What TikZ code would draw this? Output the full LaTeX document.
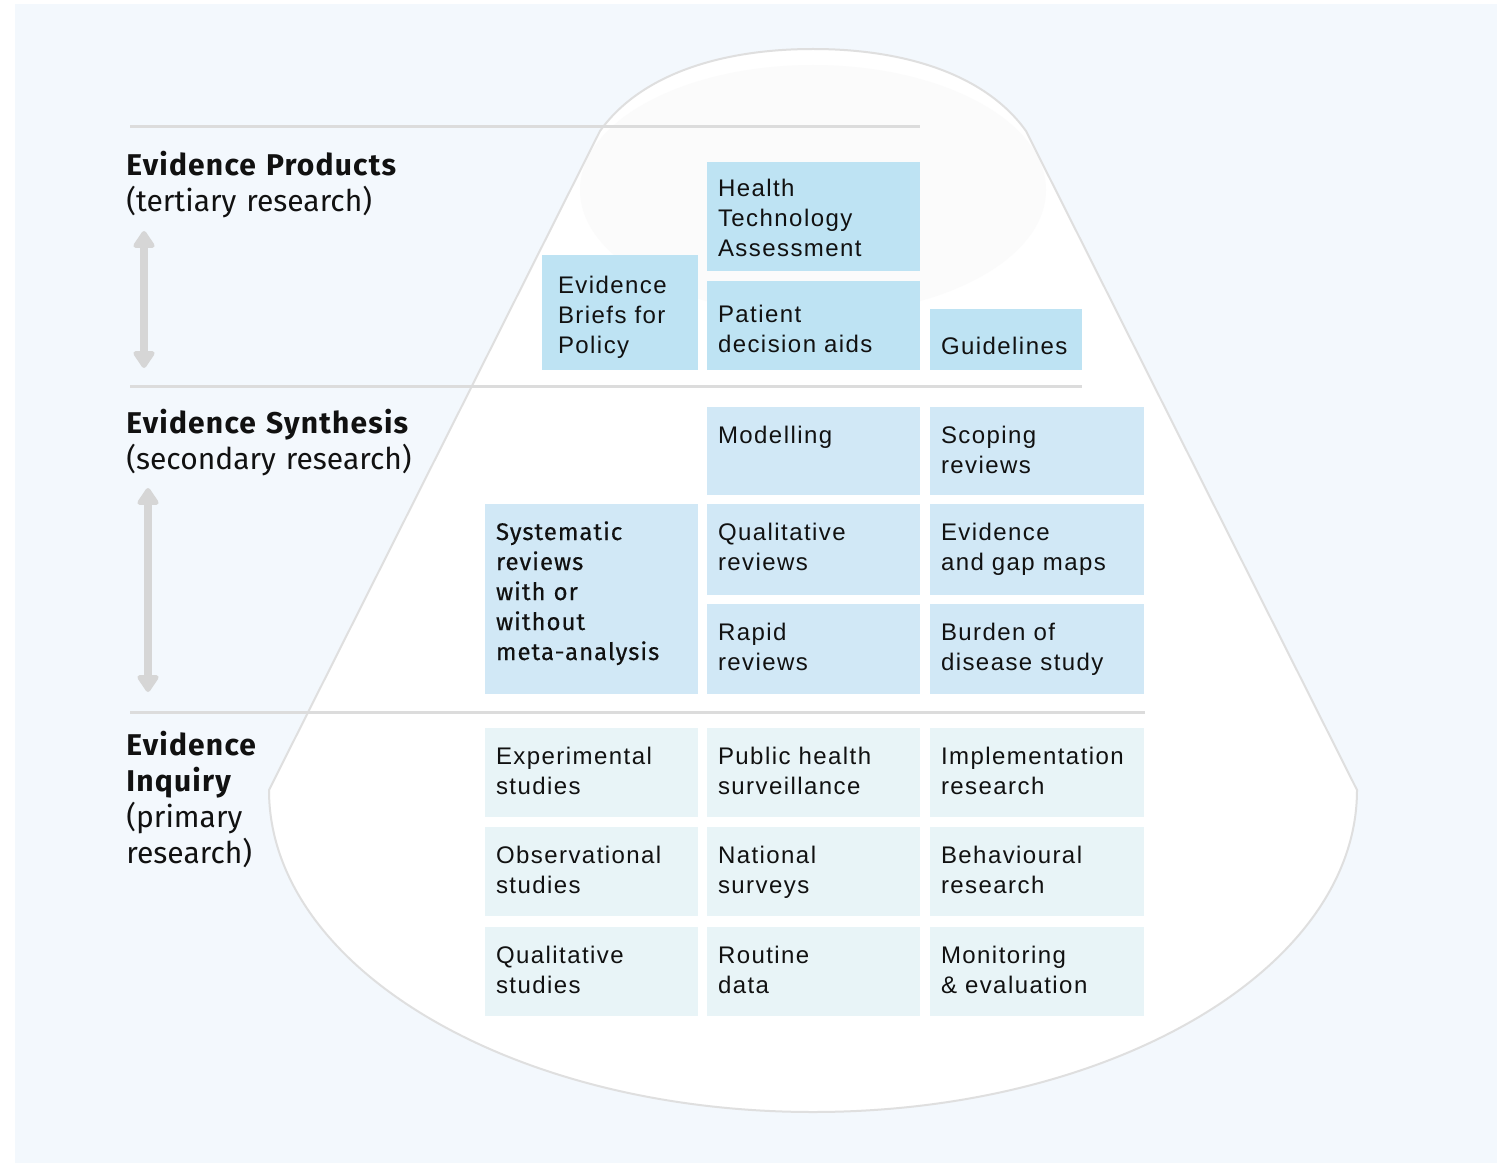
\documentclass[tikz,border=0pt]{standalone}
\usepackage{fontspec}
\usepackage{xcolor}
\usetikzlibrary{arrows.meta}
\newfontfamily\headfont{Fira Sans}[BoldFeatures={LetterSpace=4}]
\newfontfamily\medfont{Fira Sans}[FakeBold=0.4,LetterSpace=4]
\newfontfamily\boxfont{Liberation Sans}[LetterSpace=6]
\definecolor{bgblue}{HTML}{F3F8FD}
\definecolor{prodblue}{HTML}{BEE3F3}
\definecolor{synthblue}{HTML}{D1E8F6}
\definecolor{inqblue}{HTML}{E8F4F7}
\definecolor{rulegray}{HTML}{DCDCDC}
\definecolor{conegray}{HTML}{DFDFDF}
\definecolor{arrowgray}{HTML}{D6D6D6}
\definecolor{glowgray}{HTML}{FBFBFB}
\definecolor{ink}{HTML}{111111}
\newcommand\conepath{(269,790) -- (600,131) .. controls (640,75) and (720,49) .. (813,49)
  .. controls (906,49) and (986,75) .. (1026,131) -- (1357,790)
  .. controls (1357,967.8) and (1113.4,1112) .. (813,1112)
  .. controls (512.6,1112) and (269,967.8) .. (269,790) -- cycle}

\begin{document}
\begin{tikzpicture}[x=0.5pt,y=-0.5pt,
  cell/.style={rectangle, anchor=north west, outer sep=0pt, inner xsep=5.5pt, inner ysep=0pt,
    align=left, text width=95.5pt, text=ink, font=\boxfont\fontsize{12}{15}\selectfont},
  prod/.style 2 args={cell, fill=prodblue, text height=#1, text depth=#2},
  synth/.style={cell, fill=synthblue, text height=18pt, text depth=#1},
  inq/.style={cell, fill=inqblue, text height=18pt, text depth=26.5pt},
  heading/.style={anchor=base west, inner sep=0pt, align=left, text width=150pt, text=ink,
    font=\headfont\fontsize{15}{18}\selectfont},
  tierline/.style={rulegray, line width=1.5pt},
  spanarrow/.style={arrowgray, line width=4pt,
    {Triangle[width=12pt,length=9.5pt,round]}-{Triangle[width=12pt,length=9.5pt,round]}},
]
\useasboundingbox (0,0) rectangle (1504,1166);
\fill[white] (0,0) rectangle (1504,1166);
\fill[bgblue] (15,4) rectangle (1497,1163);

\fill[white] \conepath;
\begin{scope}
  \clip \conepath;
  \fill[glowgray] (813,190) ellipse [x radius=233, y radius=125];
\end{scope}
\draw[conegray, line width=1pt] \conepath;

\draw[tierline] (130,127) -- (920,127);
\draw[tierline] (130,386) -- (1082,386);
\draw[tierline] (130,712) -- (1145,712);

\node[heading] (prodhead) at (126,176) {\bfseries Evidence Products\\\mdseries(tertiary research)};
\node[heading] (synthhead) at (126,433) {\bfseries Evidence Synthesis\\\mdseries(secondary research)};
\node[heading] (inqhead) at (126,755) {\bfseries Evidence\\Inquiry\\\mdseries(primary\\research)};

\coordinate (prodtop) at (144,231);
\coordinate (prodbot) at (144,368);
\coordinate (synthtop) at (148,488);
\coordinate (synthbot) at (148,692);
\draw[spanarrow] (prodtop) -- (prodbot);
\draw[spanarrow] (synthtop) -- (synthbot);

\node[prod={17.5pt}{37pt}] (hta) at (707,162) {Health\\Technology\\Assessment};
\node[prod={20.5pt}{24pt}] (pda) at (707,281) {Patient\\decision aids};
\node[prod={19pt}{38.5pt}, inner xsep=8pt, text width=62pt] (briefs) at (542,255) {Evidence\\Briefs for\\Policy};
\node[prod={22.5pt}{8pt}, text width=65pt] (guide) at (930,309) {Guidelines};

\node[synth=26pt] (model) at (707,407) {Modelling};
\node[synth=26pt, text width=96pt] (scoping) at (930,407) {Scoping\\reviews};
\node[synth=77pt, font=\medfont\fontsize{12}{15}\selectfont] (sysrev) at (485,504)
  {Systematic\\reviews\\with or\\without\\meta-analysis};
\node[synth=27.5pt] (qualrev) at (707,504) {Qualitative\\reviews};
\node[synth=27.5pt, text width=96pt] (egm) at (930,504) {Evidence\\and gap maps};
\node[synth=27pt] (rapid) at (707,604) {Rapid\\reviews};
\node[synth=27pt, text width=96pt] (burden) at (930,604) {Burden of\\disease study};

\node[inq] (exper) at (485,728) {Experimental\\studies};
\node[inq] (phs) at (707,728) {Public health\\surveillance};
\node[inq, text width=96pt] (impl) at (930,728) {Implementation\\research};
\node[inq] (obs) at (485,827) {Observational\\studies};
\node[inq] (natsurv) at (707,827) {National\\surveys};
\node[inq, text width=96pt] (behav) at (930,827) {Behavioural\\research};
\node[inq] (qualst) at (485,927) {Qualitative\\studies};
\node[inq] (routine) at (707,927) {Routine\\data};
\node[inq, text width=96pt] (monev) at (930,927) {Monitoring\\\& evaluation};
\end{tikzpicture}
\end{document}
